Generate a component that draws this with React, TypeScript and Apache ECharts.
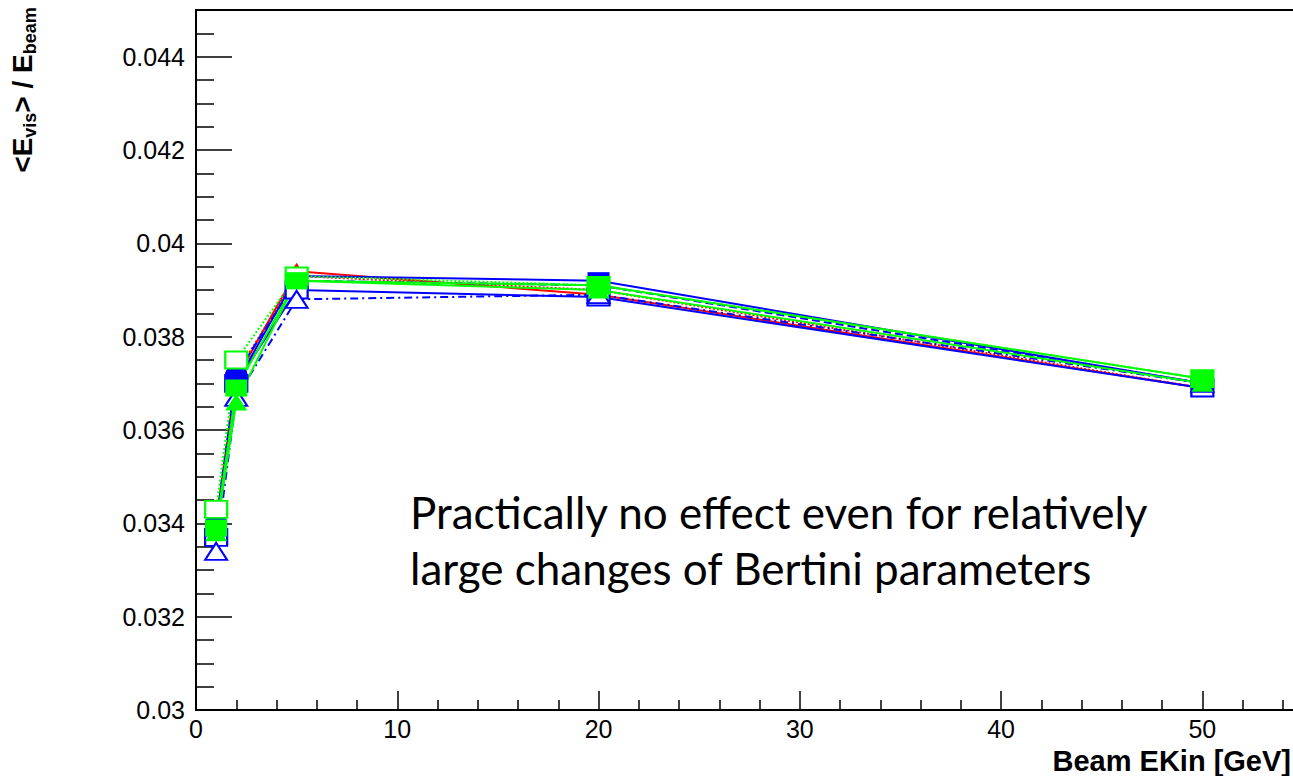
import React, { useEffect, useRef } from "react";
import * as echarts from "echarts";

const beamEnergies = [1, 2, 5, 20, 50];

const redTriangle = [0.0340, 0.0371, 0.0394, 0.0389, 0.0369];
const redCircle = [0.0340, 0.0372, 0.0393, 0.0390, 0.0369];
const blueOpenSquare = [0.0337, 0.0370, 0.0390, 0.03885, 0.0369];
const blueOpenTriangle = [0.0334, 0.0367, 0.0388, 0.0389, 0.0370];
const blueCircle = [0.0340, 0.0372, 0.0392, 0.0391, 0.0370];
const blueSquare = [0.0339, 0.0370, 0.0393, 0.0392, 0.0370];
const greenOpenSquare = [0.0343, 0.0375, 0.0393, 0.0391, 0.0371];
const greenTriangle = [0.0338, 0.0366, 0.0392, 0.0390, 0.0370];
const greenSquare = [0.0339, 0.0369, 0.0392, 0.0391, 0.0371];

const annotationLines = [
  "Practically no effect even for relatively",
  "large changes of Bertini parameters",
];
const xTitle = "Beam EKin [GeV]";

const RED = "#ff0000";
const BLUE = "#0000ff";
const GREEN = "#00ff00";

function mk(
  name: string,
  values: number[],
  color: string,
  symbol: string,
  lineType: any
) {
  return {
    name,
    type: "line",
    data: beamEnergies.map((x, i) => [x, values[i]]),
    symbol,
    symbolSize: [22, 17],
    itemStyle: { color, borderColor: color, borderWidth: symbol.startsWith("empty") ? 2 : 0 },
    lineStyle: { color, width: 2, type: lineType },
    z: 3,
  };
}

export default function App() {
  const ref = useRef<HTMLDivElement>(null);
  useEffect(() => {
    document.body.style.margin = "0";
    const chart = echarts.init(ref.current!, undefined, { renderer: "svg" });
    chart.setOption({
      animation: false,
      grid: {
        left: 196,
        top: 10,
        bottom: 66,
        right: 7,
        show: true,
        borderColor: "#000",
        borderWidth: 2,
        backgroundColor: "transparent",
      },
      xAxis: {
        type: "value",
        min: 0,
        max: 55,
        interval: 10,
        axisLine: { show: true, lineStyle: { color: "#000", width: 2 } },
        axisTick: { show: true, inside: true, length: 19, lineStyle: { color: "#000", width: 1.5 } },
        minorTick: { show: true, splitNumber: 5, length: 10, lineStyle: { color: "#000", width: 1.5 } },
        splitLine: { show: false },
        axisLabel: {
          showMaxLabel: false,
          color: "#000",
          fontFamily: "Liberation Sans",
          fontSize: 25,
          margin: 6,
        },
      },
      yAxis: {
        type: "value",
        min: 0.03,
        max: 0.045,
        interval: 0.002,
        axisLine: { show: true, lineStyle: { color: "#000", width: 2 } },
        axisTick: { show: true, inside: true, length: 36, lineStyle: { color: "#000", width: 1.5 } },
        minorTick: { show: true, splitNumber: 4, length: 18, lineStyle: { color: "#000", width: 1.5 } },
        splitLine: { show: false },
        axisLabel: {
          showMaxLabel: false,
          color: "#000",
          fontFamily: "Liberation Sans",
          fontSize: 25,
          margin: 11,
          formatter: (v: number) => String(parseFloat(v.toFixed(4))),
        },
      },
      series: [
        mk("red triangle", redTriangle, RED, "triangle", "solid"),
        mk("red circle", redCircle, RED, "circle", "dotted"),
        mk("blue open square", blueOpenSquare, BLUE, "emptyRect", "solid"),
        mk("blue open triangle", blueOpenTriangle, BLUE, "emptyTriangle", [8, 4, 2, 4]),
        mk("blue circle", blueCircle, BLUE, "circle", "dashed"),
        mk("blue square", blueSquare, BLUE, "rect", "solid"),
        mk("green open square", greenOpenSquare, GREEN, "emptyRect", "dotted"),
        mk("green triangle", greenTriangle, GREEN, "triangle", "solid"),
        mk("green square", greenSquare, GREEN, "rect", "solid"),
      ],
      graphic: [
        {
          type: "text",
          x: 22,
          y: 90,
          rotation: Math.PI / 2,
          style: {
            text: "{m|<E}{s|vis}{m|> / E}{s|beam}",
            align: "center",
            verticalAlign: "middle",
            fill: "#000",
            rich: {
              m: { fontFamily: "Liberation Sans", fontWeight: "bold", fontSize: 28, fill: "#000" },
              s: { fontFamily: "Liberation Sans", fontWeight: "bold", fontSize: 18, fill: "#000", padding: [16, 0, 0, 0] },
            },
          },
        },
        {
          type: "text",
          x: 1291,
          y: 775,
          style: {
            text: xTitle,
            align: "right",
            verticalAlign: "bottom",
            fontFamily: "Liberation Sans",
            fontWeight: "bold",
            fontSize: 29,
            fill: "#000",
          },
        },
        {
          type: "text",
          x: 410,
          y: 484,
          style: {
            text: annotationLines.join("\n"),
            fontFamily: "Lato",
            fontSize: 44,
            lineHeight: 56,
            fill: "#000",
          },
        },
      ],
    });
    return () => chart.dispose();
  }, []);
  return (
    <div style={{ width: 1293, height: 776, overflow: "hidden" }}>
      <div ref={ref} style={{ width: 1310, height: 776 }} />
    </div>
  );
}
